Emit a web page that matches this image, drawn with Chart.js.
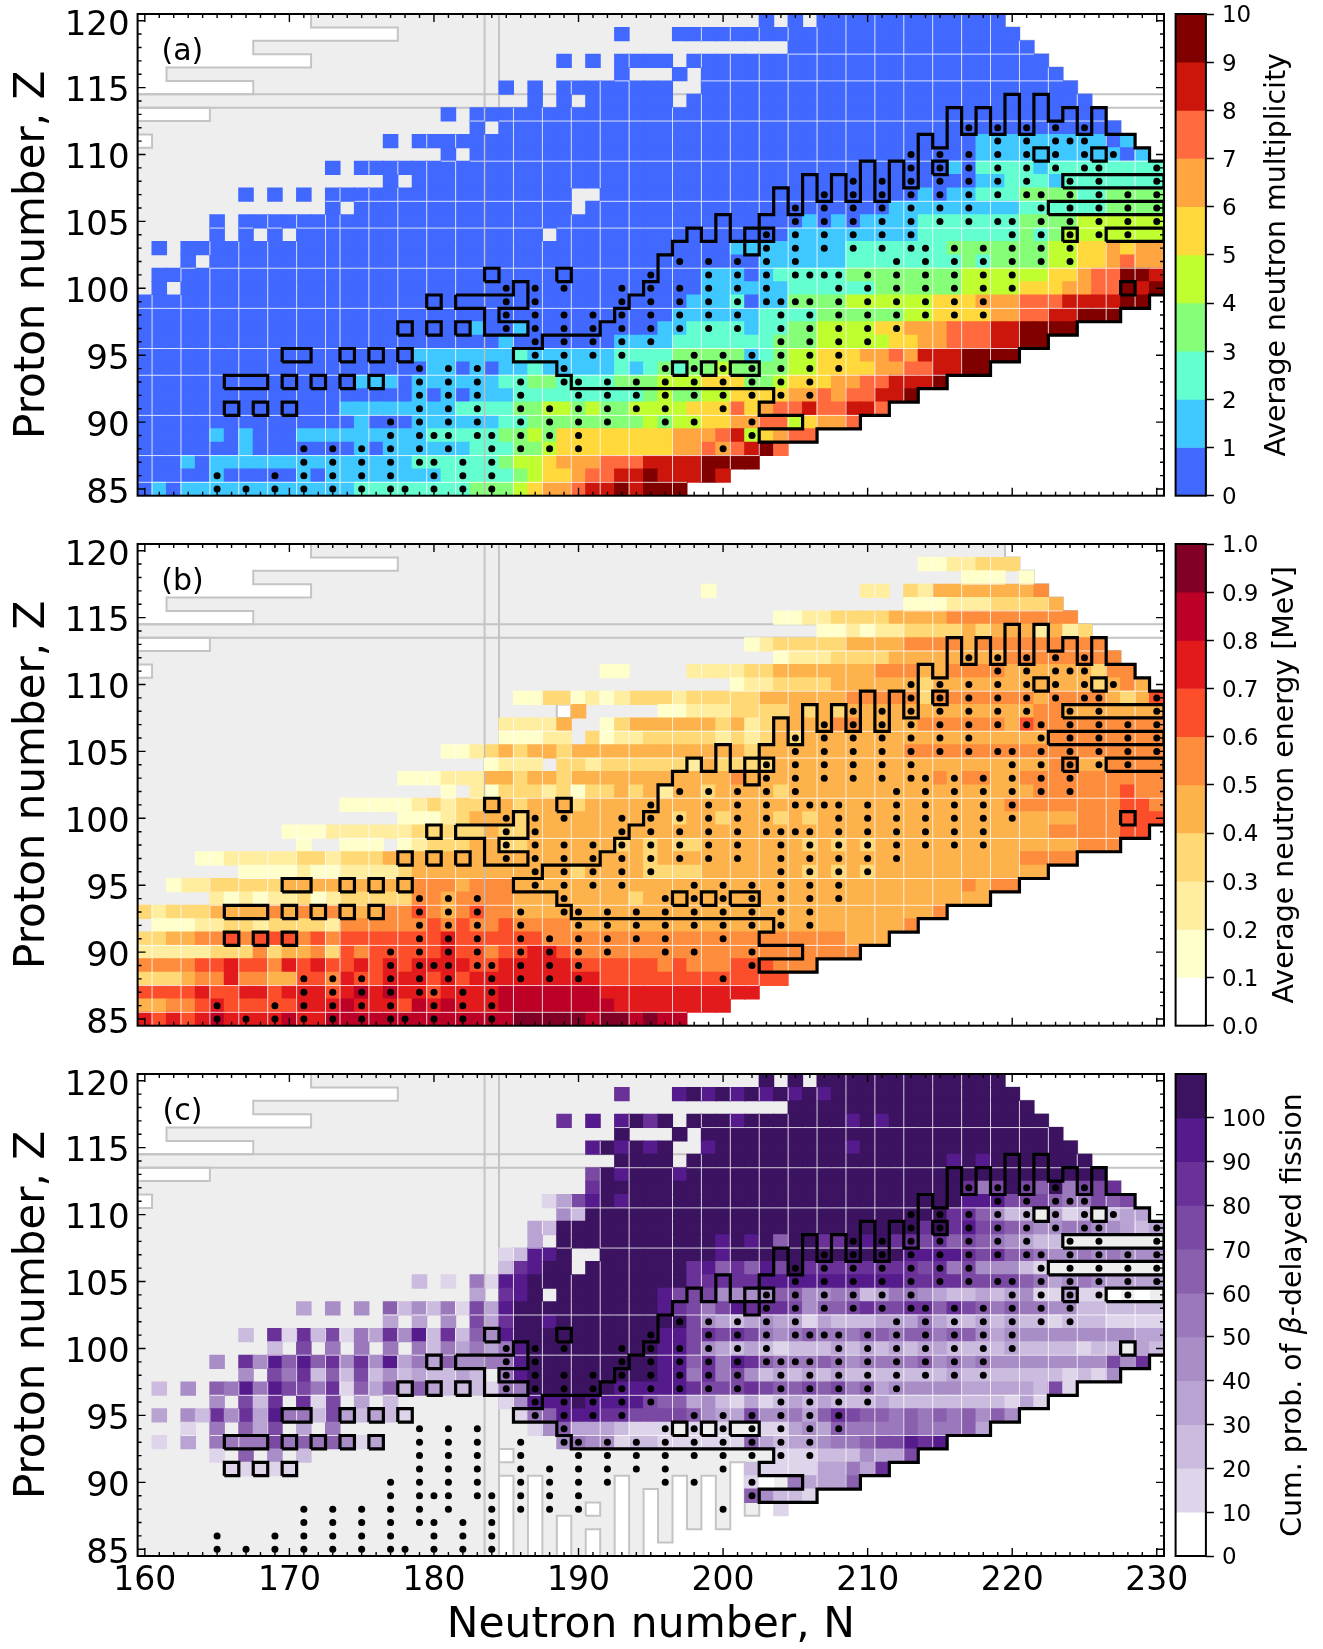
<!DOCTYPE html>
<html>
<head>
<meta charset="utf-8">
<title>Neutron multiplicity, energy and fission probability</title>
<script src="https://cdn.jsdelivr.net/npm/chart.js@4"></script>
<style>
html, body { margin: 0; padding: 0; background: #fff; overflow: hidden; }
#page { position: relative; width: 1323px; height: 1649px; }
canvas { position: absolute; }
</style>
</head>
<body>
<div id="page"></div>
<script>
// Axis ticks
const xTicks = [160, 170, 180, 190, 200, 210, 220, 230];
const yTicks = [85, 90, 95, 100, 105, 110, 115, 120];
const multiplicityTicks = [0, 1, 2, 3, 4, 5, 6, 7, 8, 9, 10];
const energyTicks = [0, 0.1, 0.2, 0.3, 0.4, 0.5, 0.6, 0.7, 0.8, 0.9, 1];
const fissionTicks = [0, 10, 20, 30, 40, 50, 60, 70, 80, 90, 100];

// Colour of each bin, lowest first
const multiplicityColors = ['#4169ff', '#3fc8ff', '#64ffd0', '#86ff78', '#bfff30', '#ffd93b', '#ffa640', '#ff6b3e', '#cc160c', '#800000'];
const energyColors = ['#ffffff', '#ffffcc', '#ffeda0', '#fed976', '#feb24c', '#fd8d3c', '#fc4e2a', '#e31a1c', '#bd0026', '#800026'];
const fissionColors = ['#ffffff', '#dfd5ea', '#cbbbde', '#b8a3d2', '#a88dc6', '#9a78bb', '#8a5fae', '#7a49a3', '#6a3198', '#551a8b', '#3c1361'];

// One row per proton number, Z=120 first. "a-b:c" is bin c for N=a..b, "a:cde" gives bins from N=a on.
const multiplicityRows = [
  '203:0 205:0 207-219:0',
  '193:0 197-220:0',
  '205-221:0',
  '189:0 191:0 193-196:0 198-222:0',
  '193:0 197:0 199-223:0',
  '185:0 187:0 189-196:0 199-224:0',
  '187:0 189:0 191-196:0 198-225:0',
  '181:0 183-226:0',
  '183:0 185-227:0',
  '177:0 179-217:0 218-226:1 227:0 228:1',
  '181:0 183-217:0 218-227:1 228:0 229:1',
  '173:0 175-215:0 216:1 217:0 218-221:2 222:1 223-230:2',
  '177:0 179-217:0 218-219:1 220-222:2 223:1 224-230:2',
  '167:0 169:0 171:0 173-189:0 192-213:0 214:1 215:0 216-217:1 218-220:2 221-224:3 225-226:2 227-230:3',
  '173:0 175-189:0 191-211:0 212-220:1 221-226:2 227-230:3',
  '165:0 167-205:0 206:1 207:0 208:1 209:0 210-213:1 214-220:2 221-224:3 225-230:4',
  '165:0 167:0 169:0 171-187:0 189-204:0 205-213:1 214-220:2 221:3 222:2 223:3 224-230:4',
  '161:0 163-200:0 201-208:1 209-215:2 216-222:3 223-224:4 225-226:5 227:6 228:5 229-230:6',
  '163:0 165-202:0 203-208:1 209-216:2 217:3 218:2 219-222:3 223-224:4 225-226:5 227:6 228:7 229-230:6',
  '161-198:0 199-201:1 202:0 203:1 204-208:2 209-216:3 217-222:4 223-224:5 225:6 226-227:7 228-229:9 230:8',
  '161:0 163-198:0 199-204:1 205-210:2 211-216:3 217-220:4 221-223:5 224-225:6 226-227:7 228:9 229:8 230:9',
  '160-197:0 198-200:1 201:2 202:0 203-204:1 205-208:3 209-214:4 215-217:5 218-220:6 221-223:7 224-227:8 228-229:9',
  '160-196:0 197-202:1 203-206:2 207-212:3 213-214:4 215-218:5 219-220:6 221-222:7 223-224:8 225-227:9',
  '160-182:0 183:1 184-185:0 186:1 187-195:0 196-197:1 198-201:2 202:1 203-204:2 205-206:3 207-210:4 211-212:5 213-215:6 216-218:7 219-220:8 221-224:9',
  '160-184:0 185:1 186-192:0 193-196:1 197-203:2 204-206:3 207-211:4 212-213:5 214-215:6 216-218:7 219-220:8 221-222:9',
  '160-178:0 179-185:1 186:2 187-192:1 193-196:2 197-201:3 202:1 203:2 204:3 205-206:4 207-209:5 210-211:6 212:7 213:6 214-216:8 217-220:9',
  '160-179:0 180-181:1 182:0 183:1 184:0 185-186:1 187:2 188-192:1 193:2 194:1 195:2 196:3 197:2 198-199:3 200:4 201-204:3 205-206:4 207-210:5 211-212:6 213-214:7 215-216:8 217-218:9',
  '160-174:0 175-177:1 178:0 179-184:1 185-186:2 187-188:3 189-192:2 193-195:3 196-198:4 199-201:5 202-203:3 204:4 205-207:5 208-209:6 210-211:7 212-214:8 215:9',
  '160-178:0 179:1 180:0 181:1 182:0 183-185:1 186-194:2 195:3 196:4 197-198:3 199-200:4 201-204:5 205-206:6 207:7 208:6 209-210:7 211-212:8 213:9',
  '160-173:0 174-181:1 182-185:2 186-187:3 188-189:4 190:3 191:4 192-193:3 194-197:4 198-200:5 201:7 202:5 203:6 204-205:7 206:8 207-208:7 209-210:8 211:7',
  '160-174:0 175:1 176-178:0 179-184:1 185-186:2 187-194:3 195:4 196:3 197-198:4 199-200:5 201-202:6 203-204:7 205:4 206:5 207-208:6 209:7',
  '160-164:0 165:1 166:0 167:1 168-170:0 171-179:1 180-184:2 185-186:3 187:4 188:3 189-196:5 197-199:6 200:7 201:8 202:4 203:5 204:6 205-206:7',
  '160-166:0 167:1 168-174:0 175:1 176:0 177-182:1 183-185:2 186-187:3 188:4 189-196:5 197-198:6 199:7 200:6 201:7 202:8 203:9 204:7',
  '160-162:0 163:1 164:0 165-178:1 179-184:2 185:3 186-187:4 188:5 189-191:6 192-194:7 195-198:8 199-202:9',
  '160-164:0 165:1 166-170:0 171:1 172:0 173-180:1 181-185:2 186:3 187:4 188-189:5 190:6 191-192:7 193-194:8 195:9 196-198:8 199:9 200:8',
  '160:0 161:1 162:0 163-174:1 175-182:2 183-185:3 186:4 187:5 188-189:6 190:7 191-192:8 193:9 194:8 195-197:9'
];

const energyRows = [
  '',
  '214-215:1 216-217:2 218-220:3',
  '217-219:1 221:1',
  '199:1 210-211:2 213:3 214:2 215-221:4 222:5',
  '213-215:1 216-218:2 219-222:3 223:4',
  '204-205:1 206-207:2 208-211:3 212-215:4 216-224:5',
  '207-208:1 209:2 210:1 211-212:2 213-216:3 217:4 218:3 219-221:4 222:2 223:4 224:2 225:3',
  '202:1 203:2 204-208:3 209-212:4 213-216:5 217:4 218-226:5',
  '204:1 205-207:2 208-211:3 212-219:4 220-227:5',
  '192-193:1 198-201:2 202-203:3 204-210:4 211-213:5 214-215:4 216-219:5 220-225:4 226:3 227-228:5',
  '201:1 202-203:2 204-207:3 208-213:4 214:3 215-225:4 226:3 227:4 228:5 229:4',
  '186-187:1 188-189:3 190:1 191:2 192:1 193:2 194-196:3 197:2 198-202:3 203-208:4 209-213:5 214:3 215-221:5 222:4 223-226:5 227:4 228:3 229:4 230:6',
  '190:4 196-197:1 198-200:2 201-204:3 205:4 206:3 207:4 208:3 209-221:4 222-223:5 224-230:4',
  '185-188:2 189:4 192:1 193:3 194-199:4 200:3 201:4 202:2 203:3 204-207:4 208-209:5 210-213:4 214-219:5 220:4 221:6 222-230:5',
  '185-187:1 188-189:2 191:3 192:1 193-194:2 195-199:3 200:2 201:3 202:2 203:3 204:4 205:3 206-222:4 223-230:5',
  '181-182:1 183:2 184:3 185:4 186:3 187-188:4 189:3 190-201:4 202:3 203-212:4 213-230:5',
  '184:1 185-187:2 189-190:3 191:2 192-197:3 198:2 199:4 200-203:3 204-222:4 223-224:5 225-226:4 227-230:5',
  '178-180:1 181-183:2 184-185:4 186:3 187-188:4 189:3 190-200:4 201:5 202-214:4 215:5 216:4 217-218:5 219-220:4 221-230:5',
  '181:1 183:2 184:1 185-187:3 188:2 189:3 190:1 191-192:3 193:4 194:3 195:4 196:2 197-198:4 199:3 200-203:4 204:3 205-221:4 222-227:5 228:6 229-230:5',
  '174-178:1 179:2 180:3 181:2 182-183:3 184-185:4 186:3 187-189:4 190:3 191-219:4 220-227:5 228-229:6 230:5',
  '178-180:1 181:2 182:3 183-185:4 186:3 187-196:4 197:3 198-199:4 200:3 201-203:4 204:3 205:4 206:3 207-224:4 225-227:5 228-230:6',
  '170-172:1 173-178:2 179-183:3 184:4 185-186:3 187-222:4 223-227:5 228-229:6',
  '171:1 174-176:1 178:1 179:2 180-182:3 183-184:4 185-186:3 187-192:4 193:3 194:4 195:3 196:4 197-198:3 199-205:4 206:3 207:4 208:3 209:4 210:3 211-224:4 225-227:5',
  '164-165:1 166-170:2 171-172:3 173:2 174-176:3 177-194:4 195:3 196-220:4 221-224:5',
  '167-170:1 171:2 172-173:1 174-177:2 178:3 179-189:4 190:3 191-194:4 195-198:3 199-205:4 206:3 207:4 208:3 209:4 210:3 211-222:4',
  '162:1 163-164:2 165-169:3 170-178:4 179-181:5 182:4 183-185:5 186-216:4 217:5 218:4 219-220:5',
  '165:2 166:1 167:2 168:1 169-170:2 171:3 172:1 173:2 174-178:3 179-180:5 181:4 182-185:5 186-193:4 194:3 195-218:4',
  '160:3 161:2 162-164:3 165-168:4 169:5 170:4 171:5 172:4 173:5 174-176:4 177-178:5 179:6 180:5 181:4 182:5 183:6 184-185:5 186-214:4 215:5',
  '161-163:1 164-165:2 166-167:3 168:2 169-172:3 173:2 174-179:5 180:6 181:5 182:6 183-184:5 185:6 186-189:5 190-212:4 213:5',
  '160-161:3 162-163:4 164-165:5 166:6 167:5 168-170:6 171:5 172:6 173:5 174-180:6 181:7 182-187:6 188-208:5 209-211:4',
  '160-164:2 165-167:3 168:5 169:3 170-171:4 172:5 173:3 174:6 175:5 176-180:6 181:7 182-183:6 184:5 185-186:6 187-188:7 189:6 190-209:5',
  '160-163:5 164-165:6 166:7 167-168:6 169:5 170:7 171:6 172:7 173-174:6 175:7 176:6 177:7 178:6 179-182:7 183-184:6 185-189:7 190-195:6 196:5 197:6 198-200:5 201-203:6 204-206:5',
  '160-162:3 163:4 164-165:5 166:7 167-168:5 169-170:4 171-172:6 173:5 174:7 175-176:6 177-179:7 180:6 181:7 182:6 183-191:7 192-204:6',
  '160-163:6 164:7 165-166:6 167-168:7 169:6 170-172:7 173:6 174:7 175:8 176:7 177:8 178-179:7 180:6 181-184:7 185-191:8 192-202:7',
  '160-161:4 162-163:5 164:6 165:7 166-170:6 171-173:7 174:8 175-177:7 178:6 179:8 180:7 181:8 182-184:7 185-192:8 193-200:7',
  '160:7 161:6 162:7 163:6 164:7 165:8 166-169:7 170:8 171-172:7 173-185:8 186-190:9 191:8 192-193:9 194:8 195:9 196-197:8'
];

const fissionRows = [
  '203:a 205:a 207-219:a',
  '193:8 197:9 198:a 199:9 200:a 201:9 202:a 203:9 204:a 205:9 206:a 207:9 208-220:a',
  '205-221:a',
  '189:8 191:9 193:9 194:a 195:8 196:a 198-200:a 201:9 202-208:a 209:9 210:a 211:9 212-222:a',
  '193:a 197:a 199-223:a',
  '191:9 192:a 193:9 194:a 195:9 196:a 199:9 200-208:a 209:9 210-224:a',
  '193-196:a 198-215:a 216:9 217:a 218:9 219-225:a',
  '191:7 192:a 193:9 194-196:a 197:9 198-226:a',
  '191:8 192-216:a 217:8 218:5 219:7 220:a 221:7 222:6 223:a 224:5 225-226:7 227:8',
  '188:1 189:3 190:7 191:9 192:a 193:9 194-216:a 217-219:9 220-222:7 223:6 224-225:5 226:7 227:6 228:7',
  '189:4 190:2 191-215:a 216-217:8 218:6 219:4 220-221:2 223:3 224:1 225:2 227:2 228-229:3',
  '187:3 188:2 189-213:a 214:8 215:a 216:8 217:9 218-219:7 220:6 221:5 222-223:4 224-225:5 226-227:4 228:3 229:2 230:3',
  '187:3 189-199:a 200:9 201:a 202:9 203:a 204:6 205-206:a 207-208:8 209:a 210:9 211:a 212-213:8 214:7 215:8 216:6 217:7 218:6 219:5 220:4 221:3 222-223:2',
  '185:1 186:2 187-188:9 189:a 192-199:a 200:9 201-212:a 213-216:9 217:8 218:7 219:8 220-221:6 222:5 223-224:4 225:5 226:4 227:5 228-230:4',
  '185:2 186:8 187:9 188-189:a 191-197:a 198:8 199:9 200:6 201:8 202:6 203:9 204:7 205:a 206-213:8 214:7 215:8 216:5 217:7 218-220:4 221:2 222:1',
  '179:2 181:1 183:5 184:1 185-186:9 187-197:a 198-202:8 203-212:9 213-216:8 217-220:7 221:6 222:5 223:3 224:4 225:5 226:4 227-230:3',
  '183:3 185:8 186:9 187:a 189-195:a 196:9 197-199:7 200-203:4 204-205:6 206-207:4 208-209:5 210:2 211:3 212-213:5 214:4 215:3 216-217:2 218:3 219:2 220:3 221:4 222-223:1 224:3 225-226:1 227:0 229:0',
  '171:3 173:4 175:4 177:6 178:2 179:4 180:2 181:5 182:1 183:7 184:3 185:9 186-195:a 196:9 197:8 198:7 199:5 200:7 201:9 202-204:8 205:7 206:4 207-208:6 209:7 210:8 211-212:7 213-214:8 215:6 216:8 217:7 218:6 219:5 220:6 221-222:5 223-224:4 225-230:2',
  '177:3 179:3 181:4 183:7 184:3 185:8 186-187:a 188:9 189-197:a 198:7 199:4 200:3 201:2 202:3 203:4 204-205:3 206:1 207:3 208-210:2 211-213:3 214:5 215:3 216-217:2 218:3 219:2 220:3 221-222:2 223:1 224-226:2 227-230:1',
  '167:2 169:8 170:1 171:8 172:2 173:7 174:1 175:5 176:3 177:8 178:4 179:9 180:2 181:8 182:2 183:6 184:4 185:9 186-195:a 196-197:9 198:7 199:8 200:7 201:8 202:7 203:5 204:4 205:5 206:6 207-209:5 210-211:6 212:5 213-214:6 215:5 216-217:6 218:4 219:3 220-228:4 229-230:3',
  '169:2 171:7 173:5 175:5 177:5 179:5 180:2 181:5 182:3 183:5 184:3 185:5 186:9 187-195:a 196-197:9 198:7 199:4 200:3 201:2 202:3 203:2 204:1 205-207:2 208:3 209:2 210:3 211:2 212:3 213:2 214-215:3 216-219:2 220:3 221-224:2 225:1 226-227:2 229:3 230:2',
  '165:4 167:8 168:4 169:9 170:6 171:9 172:6 173:8 174:4 175:8 176:4 177:9 178:3 179:5 180:3 181:6 182-183:4 184-185:5 186:9 187-195:a 196-197:9 198:6 199:8 200:5 201:9 202:8 203:6 204-206:5 207:6 208:5 209:4 210-213:5 214:6 215:4 216:5 217:4 218:5 219-226:4 227:7 228:4 229:8',
  '167:4 169:7 170:5 171:8 172:2 173:6 174:2 175:7 176:2 177:4 178:2 179:3 180-181:2 182:3 183:2 185:5 186:9 187-195:a 196-197:9 198:5 199:8 200:5 201:7 202:4 203:2 204:3 205:2 206:3 207:2 208:3 209-215:2 216:3 217-223:2 224:1 225:2 226:1 227:4',
  '161:2 163:4 165:6 166:5 167:9 168:5 169:9 170-171:7 172:5 173:8 174:1 175:6 176:3 177:6 178:2 179:6 180:3 181-183:2 184:1 185-186:5 187-192:a 193-197:9 198:8 199-201:7 202:8 203:7 204-205:6 206:7 207:6 208:7 209:5 210:6 211:3 212-216:4 217-221:3 222:2 223:7 224:1',
  '165:4 167:7 168:2 169:8 171:8 172:1 173:7 175:3 177:2 185:1 186:4 187-189:9 190:a 191-194:9 195:7 196-197:6 198:3 199:4 200:2 201:1 202:3 203:1 204:2 205:3 206:2 207:3 208-210:2 211:3 212-219:2 220:1 221:3 222:1',
  '161:3 163:4 164:2 165:8 166:4 167:8 168:3 169:9 170-171:5 172:2 173:7 174:3 175:2 176:3 177:2 178:1 186:1 187:5 188:6 189-191:9 192-193:8 194-197:7 198:6 199:4 200-201:3 202:7 203-204:4 205:5 206:3 207:6 208:8 209:7 210-211:6 212:5 213:6 214:5 215:6 216:5 217:6 218:4 219:6 220:4',
  '163:1 165:5 167:6 168:3 169:7 171:3 173:5 187:1 188:4 189:6 190-192:3 193:2 194-196:1 198:1 200:1 203-204:1 205:3 206:4 207:3 208:6 209-212:5 213:6 214-216:5 217:6 218:3',
  '161:1 163:3 165-168:5 169:7 170:5 171:6 172:5 173:6 174:4 175:1 176:3 189:4 190:5 191-192:4 193:1 194-195:2 196-201:1 202:6 203:3 204:2 205-206:3 207:4 208-209:5 210:6 211-212:7 213:9 214:8 215:9',
  '165:1 167:6 169:4 171:2 204-206:1 207-209:2 210:4 211-212:3 213:7',
  '166-170:1 202:2 203-206:1 207-208:3 209:5 210:3 211:8',
  '202:1 203:0 205:5 206-208:3 209:6',
  '202:6 203:4 204-205:2 206:1',
  '204:1',
  '',
  '',
  ''
];

// Black dots: neutron number -> proton numbers
const dotColumns = {
  165: [85, 86], 167: [85], 169: [85, 86], 171: [85, 86, 87, 88], 173: [85, 86, 87, 88], 175: [85, 86, 87, 88],
  177: [85, 86, 87, 88, 89, 90], 178: [85], 179: [87, 88, 89, 90, 91, 92, 93, 94], 180: [85, 86, 87, 89],
  181: [88, 89, 90, 91, 92, 93, 94], 182: [85, 86, 87], 183: [89, 90, 91, 92, 93, 94], 184: [85, 86, 87, 88, 89],
  185: [97, 98, 99, 100], 186: [88, 89, 90, 91, 92, 93], 187: [95, 96, 97, 98, 99, 100], 188: [88, 89, 90, 91],
  189: [93, 94, 95, 96, 97, 98, 100], 190: [88, 89, 90, 91, 92, 93], 191: [95, 96, 97, 98], 192: [90, 91, 92, 93],
  193: [95, 96, 97, 98, 99, 100], 194: [91, 92, 93], 195: [96, 97, 98, 99, 100, 101], 196: [90, 91, 92, 93, 94],
  197: [97, 98, 99, 100, 102], 198: [90, 92, 93, 94, 95], 199: [97, 98, 99, 100, 101, 102], 200: [88, 91, 92, 93, 94, 95],
  201: [97, 98, 99, 100, 101, 102], 202: [89, 90, 92, 93, 94, 95], 203: [99, 100, 101, 102, 103, 104],
  204: [92, 93, 94, 95, 96, 97, 98, 99], 205: [99, 101, 102, 103, 104, 105, 106], 206: [92, 93, 94, 95, 96, 97, 98, 99, 101],
  207: [101, 103, 104, 105, 106, 107], 208: [94, 95, 96, 97, 98, 99, 100, 101], 209: [103, 104, 105, 106, 107, 108],
  210: [96, 97, 98, 99, 100, 101], 211: [103, 104, 105, 106, 107, 108], 212: [97, 98, 99, 100, 101, 102],
  213: [103, 104, 105, 106, 107, 108, 109, 110], 214: [98, 99, 100, 101, 102, 103], 215: [105, 106, 107, 108, 109, 110],
  216: [98, 99, 100, 101, 102, 103], 217: [105, 106, 107, 108, 109, 110, 112], 218: [98, 99, 100, 101, 102, 103],
  219: [105, 107, 108, 109, 110, 111, 112], 220: [100, 101, 102, 103, 104, 105], 221: [107, 108, 109, 110, 111, 112],
  222: [102, 103, 104, 105, 106, 107], 223: [109, 110, 111, 112], 224: [102, 103, 104, 105, 106, 107, 108, 111],
  225: [109, 110, 111, 112], 226: [104, 105, 106, 107, 108, 109], 227: [110], 228: [104, 105, 106, 107],
  230: [105, 106, 107, 108, 109]
};

// Black stepped contour, [N, Z]
const contourLine = [
  [230.5, 109.5], [229.5, 109.5], [229.5, 110.5], [228.5, 110.5], [228.5, 111.5], [226.5, 111.5], [226.5, 113.5], [225.5, 113.5],
  [225.5, 111.5], [224.5, 111.5], [224.5, 113.5], [223.5, 113.5], [223.5, 112.5], [222.5, 112.5], [222.5, 114.5], [221.5, 114.5],
  [221.5, 111.5], [220.5, 111.5], [220.5, 114.5], [219.5, 114.5], [219.5, 111.5], [218.5, 111.5], [218.5, 113.5], [217.5, 113.5],
  [217.5, 111.5], [216.5, 111.5], [216.5, 113.5], [215.5, 113.5], [215.5, 110.5], [214.5, 110.5], [214.5, 111.5], [213.5, 111.5],
  [213.5, 107.5], [212.5, 107.5], [212.5, 109.5], [211.5, 109.5], [211.5, 106.5], [210.5, 106.5], [210.5, 109.5], [209.5, 109.5],
  [209.5, 106.5], [208.5, 106.5], [208.5, 108.5], [207.5, 108.5], [207.5, 106.5], [206.5, 106.5], [206.5, 108.5], [205.5, 108.5],
  [205.5, 105.5], [204.5, 105.5], [204.5, 107.5], [203.5, 107.5], [203.5, 105.5], [202.5, 105.5], [202.5, 102.5], [201.5, 102.5],
  [201.5, 104.5], [203.5, 104.5], [203.5, 103.5], [200.5, 103.5], [200.5, 105.5], [199.5, 105.5], [199.5, 103.5], [198.5, 103.5],
  [198.5, 104.5], [197.5, 104.5], [197.5, 103.5], [196.5, 103.5], [196.5, 102.5], [195.5, 102.5], [195.5, 100.5], [194.5, 100.5],
  [194.5, 99.5], [193.5, 99.5], [193.5, 98.5], [192.5, 98.5], [192.5, 97.5], [191.5, 97.5], [191.5, 96.5], [187.5, 96.5],
  [187.5, 95.5], [185.5, 95.5], [185.5, 94.5], [188.5, 94.5], [188.5, 93.5], [189.5, 93.5], [189.5, 92.5], [203.5, 92.5],
  [203.5, 91.5], [202.5, 91.5], [202.5, 90.5], [205.5, 90.5], [205.5, 89.5], [202.5, 89.5], [202.5, 88.5], [206.5, 88.5],
  [206.5, 89.5], [209.5, 89.5], [209.5, 90.5], [211.5, 90.5], [211.5, 91.5], [213.5, 91.5], [213.5, 92.5], [215.5, 92.5],
  [215.5, 93.5], [218.5, 93.5], [218.5, 94.5], [220.5, 94.5], [220.5, 95.5], [222.5, 95.5], [222.5, 96.5], [224.5, 96.5],
  [224.5, 97.5], [227.5, 97.5], [227.5, 98.5], [229.5, 98.5], [229.5, 99.5], [230.5, 99.5]
];
const contourIsland = [
  [181.5, 99.5], [185.5, 99.5], [185.5, 100.5], [186.5, 100.5], [186.5, 98.5], [184.5, 98.5], [184.5, 97.5], [186.5, 97.5],
  [186.5, 96.5], [183.5, 96.5], [183.5, 98.5], [181.5, 98.5], [181.5, 99.5]
];
// Black boxes: first N, last N, Z
const blackBoxes = [
  [184, 184, 101], [189, 189, 101], [180, 180, 99], [178, 178, 97], [180, 180, 97], [182, 182, 97], [170, 171, 95], [174, 174, 95],
  [176, 176, 95], [178, 178, 95], [166, 168, 93], [170, 170, 93], [172, 172, 93], [174, 174, 93], [176, 176, 93], [166, 166, 91],
  [168, 168, 91], [170, 170, 91], [197, 197, 94], [199, 199, 94], [201, 202, 94], [215, 215, 109], [222, 222, 110], [226, 226, 110],
  [224, 224, 104], [228, 228, 100], [224, 230, 108], [223, 230, 106], [227, 230, 104]
];

// Grey region of nuclei outside the calculation
const greyRegion = [
  [159.5, 114.5], [167.5, 114.5], [167.5, 115.5], [161.5, 115.5], [161.5, 116.5], [171.5, 116.5], [171.5, 117.5], [167.5, 117.5],
  [167.5, 118.5], [177.5, 118.5], [177.5, 119.5], [171.5, 119.5], [171.5, 120.5], [219.5, 120.5], [219.5, 119.5], [220.5, 119.5],
  [220.5, 118.5], [221.5, 118.5], [221.5, 117.5], [222.5, 117.5], [222.5, 116.5], [223.5, 116.5], [223.5, 115.5], [224.5, 115.5],
  [224.5, 114.5], [225.5, 114.5], [225.5, 113.5], [226.5, 113.5], [226.5, 112.5], [227.5, 112.5], [227.5, 111.5], [228.5, 111.5],
  [228.5, 110.5], [229.5, 110.5], [229.5, 109.5], [230.5, 109.5], [230.5, 99.5], [229.5, 99.5], [229.5, 98.5], [227.5, 98.5],
  [227.5, 97.5], [224.5, 97.5], [224.5, 96.5], [222.5, 96.5], [222.5, 95.5], [220.5, 95.5], [220.5, 94.5], [218.5, 94.5],
  [218.5, 93.5], [215.5, 93.5], [215.5, 92.5], [213.5, 92.5], [213.5, 91.5], [211.5, 91.5], [211.5, 90.5], [209.5, 90.5],
  [209.5, 89.5], [206.5, 89.5], [206.5, 88.5], [202.5, 88.5], [202.5, 87.5], [201.5, 87.5], [201.5, 91.5], [200.5, 91.5],
  [200.5, 86.5], [199.5, 86.5], [199.5, 90.5], [198.5, 90.5], [198.5, 86.5], [197.5, 86.5], [197.5, 90.5], [196.5, 90.5],
  [196.5, 85.5], [195.5, 85.5], [195.5, 89.5], [194.5, 89.5], [194.5, 84.5], [193.5, 84.5], [193.5, 90.5], [192.5, 90.5],
  [192.5, 84.5], [191.5, 84.5], [191.5, 86.5], [190.5, 86.5], [190.5, 84.5], [189.5, 84.5], [189.5, 87.5], [188.5, 87.5],
  [188.5, 84.5], [187.5, 84.5], [187.5, 90.5], [186.5, 90.5], [186.5, 84.5], [185.5, 84.5], [185.5, 90.5], [184.5, 90.5],
  [184.5, 84.5], [159.5, 84.5], [159.5, 110.5], [160.5, 110.5], [160.5, 111.5], [159.5, 111.5], [159.5, 112.5], [164.5, 112.5],
  [164.5, 113.5], [159.5, 113.5], [159.5, 114.5]
];
// White cells inside the grey region: N, Z
const whiteCells = [[185, 92], [191, 88], [189, 108]];
const magicZ = [113.5, 114.5];
const magicN = [183.5, 184.5];

// Thin seams that show through the coloured cells
const seamN = [160.5, 162.5, 164.5, 166.5, 168.5, 170.5, 172.5, 173.5, 175.5, 177.5, 179.5, 181.5, 185.5, 187.5, 189.5, 191.5, 193.5, 196.5, 198.5, 200.5, 202.5, 204.5, 206.5, 208.5, 210.5, 212.5, 214.5, 216.5, 218.5, 220.5, 222.5, 224.5, 226.5, 228.5];
const seamZ = [85.5, 87.5, 90.5, 93.5, 95.5, 98.5, 101.5, 104.5, 106.5, 109.5, 112.5, 115.5, 117.5];
const seamZLower = [93.5, 96.5, 99.5, 102.5, 107.5, 110.5, 113.5, 116.5];

const xMin = 159.5, xMax = 230.5, yMin = 84.5, yMax = 120.5;
const AXIS_LEFT = 137.6, AXIS_RIGHT = 1164;
const BLANK = { x: NaN, y: NaN };

function parseRows(rows) {
  const cells = [];
  rows.forEach(function(row, i) {
    if (!row) return;
    const z = 120 - i;
    row.split(' ').forEach(function(tok) {
      const [range, codes] = tok.split(':');
      if (range.includes('-')) {
        const [a, b] = range.split('-').map(Number);
        for (let n = a; n <= b; n++) cells.push({ n: n, z: z, bin: parseInt(codes, 16) });
      } else {
        [...codes].forEach(function(c, k) {
          cells.push({ n: Number(range) + k, z: z, bin: parseInt(c, 16) });
        });
      }
    });
  });
  return cells;
}

function toPoints(list) {
  return list.map(function(p) { return { x: p[0], y: p[1] }; });
}

function boxPoints(n0, n1, z0, z1) {
  return [{ x: n0, y: z0 }, { x: n1, y: z0 }, { x: n1, y: z1 }, { x: n0, y: z1 }, { x: n0, y: z0 }, BLANK];
}

function seamPoints(cells, ns, zs) {
  const has = new Set(cells.map(function(c) { return c.n + '_' + c.z; }));
  const pts = [];
  ns.forEach(function(s) {
    for (let z = 85; z <= 120; z++) {
      if (has.has((s - 0.5) + '_' + z) && has.has((s + 0.5) + '_' + z)) {
        pts.push({ x: s, y: z - 0.5 }, { x: s, y: z + 0.5 }, BLANK);
      }
    }
  });
  zs.forEach(function(s) {
    for (let n = 160; n <= 230; n++) {
      if (has.has(n + '_' + (s - 0.5)) && has.has(n + '_' + (s + 0.5))) {
        pts.push({ x: n - 0.5, y: s }, { x: n + 0.5, y: s }, BLANK);
      }
    }
  });
  return pts;
}

function lineSet(data, color, width, order, extra) {
  return Object.assign({
    type: 'scatter', showLine: true, data: data, borderColor: color, borderWidth: width,
    pointRadius: 0, fill: false, tension: 0, order: order, borderJoinStyle: 'miter'
  }, extra || {});
}

// Chart.js shrinks the axis for half a tick label unless this is cleared
function clearScalePadding(s) {
  s.paddingTop = 0;
  s.paddingBottom = 0;
  s.paddingLeft = 0;
  s.paddingRight = 0;
}

// A blank first line pushes the tick label down by half the line height
function loweredLabel(text) {
  return ['', text];
}

// Inward ticks on all four sides, the axes frame, panel tag and the colour bar label
const framePlugin = {
  id: 'frame',
  afterDraw(chart) {
    const ctx = chart.ctx, a = chart.chartArea, opts = chart.options.plugins.frame;
    ctx.save();
    ctx.strokeStyle = '#000';
    if (opts.inwardTicks) {
      const sx = chart.scales.x, sy = chart.scales.y;
      ctx.lineWidth = 1.4;
      ctx.beginPath();
      for (let n = 160; n <= 230; n++) {
        const px = sx.getPixelForValue(n), len = n % 10 === 0 ? 8 : 4;
        ctx.moveTo(px, a.bottom); ctx.lineTo(px, a.bottom - len);
        ctx.moveTo(px, a.top); ctx.lineTo(px, a.top + len);
      }
      for (let z = 85; z <= 120; z++) {
        const py = sy.getPixelForValue(z), len = z % 5 === 0 ? 8 : 4;
        ctx.moveTo(a.left, py); ctx.lineTo(a.left + len, py);
        ctx.moveTo(a.right, py); ctx.lineTo(a.right - len, py);
      }
      ctx.stroke();
    }
    ctx.lineWidth = 2;
    ctx.strokeRect(a.left, a.top, a.right - a.left, a.bottom - a.top);
    ctx.fillStyle = '#000';
    if (opts.tag) {
      ctx.font = '30px "DejaVu Sans"';
      ctx.textAlign = 'center';
      ctx.textBaseline = 'middle';
      ctx.fillText(opts.tag, chart.scales.x.getPixelForValue(162.6), a.top + 38);
    }
    if (opts.side) {
      ctx.translate(opts.side.x, (a.top + a.bottom) / 2);
      ctx.rotate(-Math.PI / 2);
      ctx.textAlign = 'left';
      ctx.textBaseline = 'alphabetic';
      let total = 0;
      opts.side.parts.forEach(function(p) {
        ctx.font = (p.italic ? 'italic ' : '') + '28.4px "DejaVu Sans"';
        total += ctx.measureText(p.text).width;
      });
      let pos = -total / 2;
      opts.side.parts.forEach(function(p) {
        ctx.font = (p.italic ? 'italic ' : '') + '28.4px "DejaVu Sans"';
        ctx.fillText(p.text, pos, 0);
        pos += ctx.measureText(p.text).width;
      });
    }
    ctx.restore();
  }
};

function addCanvas(left, top, width, height) {
  const c = document.createElement('canvas');
  c.width = width;
  c.height = height;
  c.style.left = left + 'px';
  c.style.top = top + 'px';
  document.getElementById('page').appendChild(c);
  return c.getContext('2d');
}

function drawPanel(cfg) {
  const cells = parseRows(cfg.rows);
  const dots = [];
  Object.keys(dotColumns).forEach(function(n) {
    dotColumns[n].forEach(function(z) { dots.push({ x: Number(n), y: z }); });
  });
  let boxes = [];
  blackBoxes.forEach(function(b) { boxes = boxes.concat(boxPoints(b[0] - 0.5, b[1] + 0.5, b[2] - 0.5, b[2] + 0.5)); });
  const magic = [];
  magicZ.forEach(function(z) { magic.push({ x: xMin, y: z }, { x: xMax, y: z }, BLANK); });
  magicN.forEach(function(n) { magic.push({ x: n, y: yMin }, { x: n, y: yMax }, BLANK); });

  const datasets = [
    lineSet(toPoints(greyRegion), '#c4c4c4', 2, 20, { fill: 'shape', backgroundColor: '#eeeeee' })
  ];
  whiteCells.forEach(function(w) {
    const data = boxPoints(w[0] - 0.5, w[0] + 0.5, w[1] - 0.5, w[1] + 0.5).slice(0, 5);
    datasets.push(lineSet(data, '#c4c4c4', 2, 19, { fill: 'shape', backgroundColor: '#ffffff' }));
  });
  datasets.push(lineSet(magic, '#c4c4c4', 2, 18));
  datasets.push({
    type: 'bar',
    data: cells.map(function(c) { return { x: c.n, y: [c.z - 0.51, c.z + 0.51] }; }),
    backgroundColor: cells.map(function(c) { return cfg.colors[c.bin]; }),
    barThickness: 14.9,
    grouped: false,
    borderWidth: 0,
    order: 10
  });
  datasets.push(lineSet(seamPoints(cells, seamN, cfg.seamZ), 'rgba(255,255,255,0.8)', 1, 6));
  datasets.push(lineSet(seamPoints(cells, [183.5], []), '#bdbdbd', 1.4, 5));
  datasets.push(lineSet(toPoints(contourLine), '#000', 3.2, 3));
  datasets.push(lineSet(toPoints(contourIsland), '#000', 3.2, 3));
  datasets.push(lineSet(boxes, '#000', 3.2, 3));
  datasets.push({ type: 'scatter', data: dots, pointRadius: 3.5, pointBackgroundColor: '#000', pointBorderWidth: 0, order: 1 });

  const ctx = addCanvas(0, cfg.top, 1323, cfg.height);
  new Chart(ctx, {
    type: 'bar',
    data: { datasets: datasets },
    plugins: [framePlugin],
    options: {
      responsive: false,
      animation: false,
      events: [],
      layout: {
        autoPadding: false,
        padding: { left: 0, top: 14, right: 1323 - AXIS_RIGHT, bottom: cfg.bottom }
      },
      plugins: {
        legend: { display: false },
        tooltip: { enabled: false },
        frame: { inwardTicks: true, tag: cfg.tag }
      },
      scales: {
        x: {
          type: 'linear',
          min: xMin,
          max: xMax,
          offset: false,
          grid: { display: false, drawTicks: false },
          border: { display: false },
          afterBuildTicks: function(s) { s.ticks = xTicks.map(function(v) { return { value: v }; }); },
          afterFit: function(s) { s.height = cfg.xHeight; clearScalePadding(s); },
          ticks: {
            display: cfg.showX,
            autoSkip: false,
            maxRotation: 0,
            padding: 6,
            color: '#000',
            font: { family: 'DejaVu Sans', size: 33 }
          },
          title: {
            display: cfg.showX,
            text: 'Neutron number, N',
            color: '#000',
            padding: 0,
            font: { family: 'DejaVu Sans', size: 42.4 }
          }
        },
        y: {
          type: 'linear',
          min: yMin,
          max: yMax,
          grid: { display: false, drawTicks: false },
          border: { display: false },
          afterBuildTicks: function(s) { s.ticks = yTicks.map(function(v) { return { value: v }; }); },
          afterFit: function(s) { s.width = AXIS_LEFT; clearScalePadding(s); },
          ticks: {
            autoSkip: false,
            padding: 8,
            color: '#000',
            font: { family: 'DejaVu Sans', size: 34, lineHeight: '10px' },
            callback: function(v) { return loweredLabel(String(v)); }
          },
          title: {
            display: true,
            text: 'Proton number, Z',
            color: '#000',
            padding: { top: 8, bottom: 0 },
            font: { family: 'DejaVu Sans', size: 42 }
          }
        }
      }
    }
  });
}

function drawColorbar(cfg) {
  const step = cfg.barMax / cfg.colors.length;
  const bars = cfg.colors.map(function(c, i) { return { x: 0.5, y: [i * step, (i + 1) * step] }; });
  const ctx = addCanvas(AXIS_RIGHT, cfg.top, 159, cfg.height);
  new Chart(ctx, {
    type: 'bar',
    data: {
      datasets: [{
        data: bars,
        backgroundColor: cfg.colors,
        barThickness: 31,
        grouped: false,
        borderWidth: 0
      }]
    },
    plugins: [framePlugin],
    options: {
      responsive: false,
      animation: false,
      events: [],
      layout: { autoPadding: false, padding: { left: 11.6, top: 14, right: 0, bottom: cfg.bottom } },
      plugins: {
        legend: { display: false },
        tooltip: { enabled: false },
        frame: { inwardTicks: false, side: { x: cfg.labelX, parts: cfg.label } }
      },
      scales: {
        x: { type: 'linear', min: 0, max: 1, display: false },
        y: {
          position: 'right',
          type: 'linear',
          min: 0,
          max: cfg.barMax,
          grid: { drawOnChartArea: false, tickLength: 8, tickColor: '#000', tickWidth: 1.5 },
          border: { display: false },
          afterBuildTicks: function(s) { s.ticks = cfg.ticks.map(function(v) { return { value: v }; }); },
          afterFit: function(s) { s.width = 159 - 41.9; clearScalePadding(s); },
          ticks: {
            autoSkip: false,
            padding: 8,
            color: '#000',
            font: { family: 'DejaVu Sans', size: 23, lineHeight: '5px' },
            callback: function(v) { return loweredLabel(cfg.format(v)); }
          }
        }
      }
    }
  });
}

const plainTick = function(v) { return String(v); };
const oneDecimal = function(v) { return v.toFixed(1); };

drawPanel({ rows: multiplicityRows, colors: multiplicityColors, tag: '(a)', top: 0, height: 510, bottom: 14.3, xHeight: 0, showX: false, seamZ: seamZ });
drawColorbar({ colors: multiplicityColors, ticks: multiplicityTicks, barMax: 10, top: 0, height: 510, bottom: 14.3, label: [{ text: 'Average neutron multiplicity' }], labelX: 121, format: plainTick });

drawPanel({ rows: energyRows, colors: energyColors, tag: '(b)', top: 530, height: 510, bottom: 14.3, xHeight: 0, showX: false, seamZ: seamZ });
drawColorbar({ colors: energyColors, ticks: energyTicks, barMax: 1, top: 530, height: 510, bottom: 14.3, label: [{ text: 'Average neutron energy [MeV]' }], labelX: 129, format: oneDecimal });

drawPanel({ rows: fissionRows, colors: fissionColors, tag: '(c)', top: 1060, height: 591, bottom: 0, xHeight: 95, showX: true, seamZ: seamZLower });
drawColorbar({ colors: fissionColors, ticks: fissionTicks, barMax: 110, top: 1060, height: 591, bottom: 95, label: [{ text: 'Cum. prob. of ' }, { text: '\u03b2', italic: true }, { text: '-delayed fission' }], labelX: 137, format: plainTick });
</script>
</body>
</html>
